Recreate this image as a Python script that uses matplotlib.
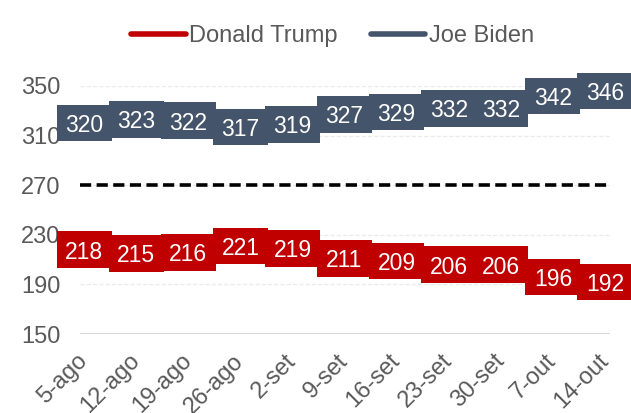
import matplotlib
matplotlib.use("Agg")
import matplotlib.pyplot as plt
from matplotlib.patches import Rectangle

plt.rcParams['font.family'] = ['Liberation Sans', 'DejaVu Sans']

dates = ["5-ago", "12-ago", "19-ago", "26-ago", "2-set", "9-set", "16-set",
         "23-set", "30-set", "7-out", "14-out"]
trump = [218, 215, 216, 221, 219, 211, 209, 206, 206, 196, 192]
biden = [320, 323, 322, 317, 319, 327, 329, 332, 332, 342, 346]
threshold = 270
yticks = [150, 190, 230, 270, 310, 350]

red = "#C00000"
slate = "#44546A"
gray = "#595959"

# label box size in data units (x: category steps, y: electoral votes)
BOX_W = 1.055
BOX_H = 29.5

fig = plt.figure(figsize=(6.31, 4.13), dpi=100)
ax = fig.add_axes([0.127, 0.191, 0.840, 0.601])

x = list(range(len(dates)))

for yt in yticks:
    ax.axhline(yt, color="#EBEBEB", lw=1, ls=(0, (3, 1.5)), zorder=0)
ax.axhline(150, color="#D9D9D9", lw=1.5, zorder=0.5)

ax.axhline(threshold, color="black", lw=2.6, ls=(0, (3.1, 1.5)), zorder=1)

lt, = ax.plot(x, trump, color=red, lw=4, solid_capstyle="round", label="Donald Trump", zorder=2)
lb, = ax.plot(x, biden, color=slate, lw=4, solid_capstyle="round", label="Joe Biden", zorder=2)


def label_series(values, color):
    for xi, v in zip(x, values):
        ax.add_patch(Rectangle((xi - BOX_W / 2, v - BOX_H / 2), BOX_W, BOX_H,
                               facecolor=color, edgecolor="none", zorder=3,
                               clip_on=False))
        ax.text(xi, v, str(v), ha="center", va="center_baseline", color="white",
                fontsize=16.5, zorder=4, clip_on=False)


label_series(trump, red)
label_series(biden, slate)

ax.set_ylim(150, 350)
ax.set_xlim(-0.077, 10.1)
ax.set_yticks(yticks)
ax.set_xticks(x)
ax.set_xticklabels(dates, rotation=45, ha="right", va="center", rotation_mode="anchor")
ax.tick_params(axis="both", length=0, colors=gray, labelsize=17)
ax.tick_params(axis="y", pad=14)
ax.tick_params(axis="x", pad=17)
for s in ax.spines.values():
    s.set_visible(False)

leg = fig.legend(handles=[lt, lb], loc="upper center", bbox_to_anchor=(0.527, 0.99),
                 ncol=2, frameon=False, fontsize=17, handlelength=2.3,
                 handletextpad=0.15, columnspacing=1.4)
for t in leg.get_texts():
    t.set_color(gray)

fig.savefig("out.png", dpi=100)
